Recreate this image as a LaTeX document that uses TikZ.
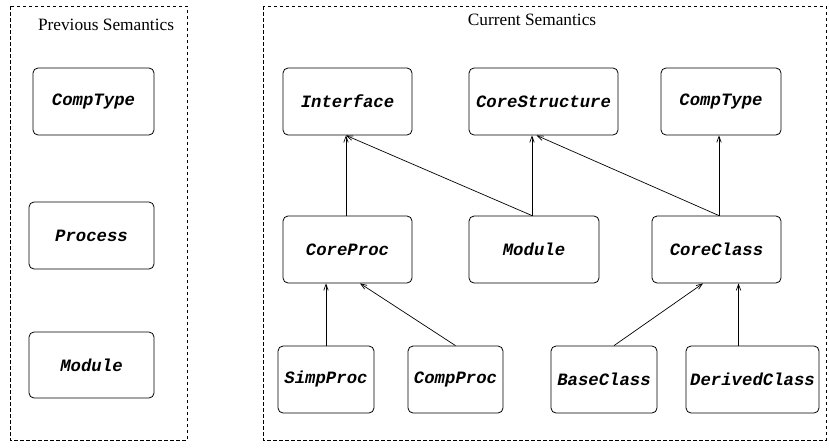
\documentclass[tikz,border=0pt]{standalone}
\usepackage{fontspec}
\setmainfont{Liberation Serif}
\newfontfamily\boxfont{Liberation Mono}
\usetikzlibrary{arrows.meta,calc}
\begin{document}
\begin{tikzpicture}[x=1pt,y=-1pt,
  frame/.style={draw, line width=0.6pt, dash pattern=on 3.5pt off 2.5pt},
  cls/.style={draw, line width=0.8pt, rounded corners=5pt, inner sep=0pt, font=\boxfont\bfseries\itshape\fontsize{17.3}{19}\selectfont},
  ttl/.style={font=\fontsize{17.3}{19}\selectfont, inner sep=0pt},
  inh/.style={line width=0.7pt, -{Straight Barb[length=6pt,width=4.5pt]}}]
\useasboundingbox (0,0) rectangle (829,447);
% frames
\draw[frame] (10,6) rectangle (187,440);
\draw[frame] (263,6) rectangle (826,440);
\node[ttl] (prevt) at (106,25) {Previous Semantics};
\node[ttl] (curt) at (532,20) {Current Semantics};
% helper: box by corners
\newcommand{\clsbox}[6]{\node[cls, minimum width={#4-#2}, minimum height={#5-#3}] (#1) at ({(#2+#4)/2},{(#3+#5)/2}) {#6};}
% left
\clsbox{lcomp}{33}{68}{154}{135}{CompType}
\clsbox{lproc}{29}{202}{154}{269}{Process}
\clsbox{lmod}{29}{332}{154}{398}{Module}
% right row 1
\clsbox{iface}{283}{68}{412}{135}{Interface}
\clsbox{cstruct}{469}{68}{618}{135}{CoreStructure}
\clsbox{rcomp}{661}{68}{781}{135}{CompType}
% row 2
\clsbox{cproc}{283}{216}{412}{283}{CoreProc}
\clsbox{rmod}{469}{216}{599}{283}{Module}
\clsbox{cclass}{652}{216}{781}{283}{CoreClass}
% row 3
\clsbox{sproc}{278}{346}{374}{413}{SimpProc}
\clsbox{coproc}{408}{346}{503}{413}{CompProc}
\clsbox{bclass}{551}{346}{657}{413}{BaseClass}
\clsbox{dclass}{686}{346}{819}{413}{DerivedClass}
% arrows
\draw[inh] ([xshift=-1.5pt]cproc.north) -- ([xshift=-1.5pt]iface.south);
\draw[inh] ([xshift=-2pt]rmod.north) -- ([xshift=-1.5pt]iface.south);
\draw[inh] ([xshift=-2pt]rmod.north) -- ([xshift=-2pt]rmod.north |- cstruct.south);
\draw[inh] ([xshift=2.5pt]cclass.north) -- ([xshift=-7pt]cstruct.south);
\draw[inh] ([xshift=2.5pt]cclass.north) -- ([xshift=2.5pt]cclass.north |- rcomp.south);
\draw[inh] (sproc.north) -- (sproc.north |- cproc.south);
\draw[inh] (coproc.north) -- ([xshift=12.5pt]cproc.south);
\draw[inh] ([xshift=10pt]bclass.north) -- ([xshift=-13.5pt]cclass.south);
\draw[inh] ([xshift=-14pt]dclass.north) -- ([xshift=-14pt]dclass.north |- cclass.south);
\end{tikzpicture}
\end{document}
